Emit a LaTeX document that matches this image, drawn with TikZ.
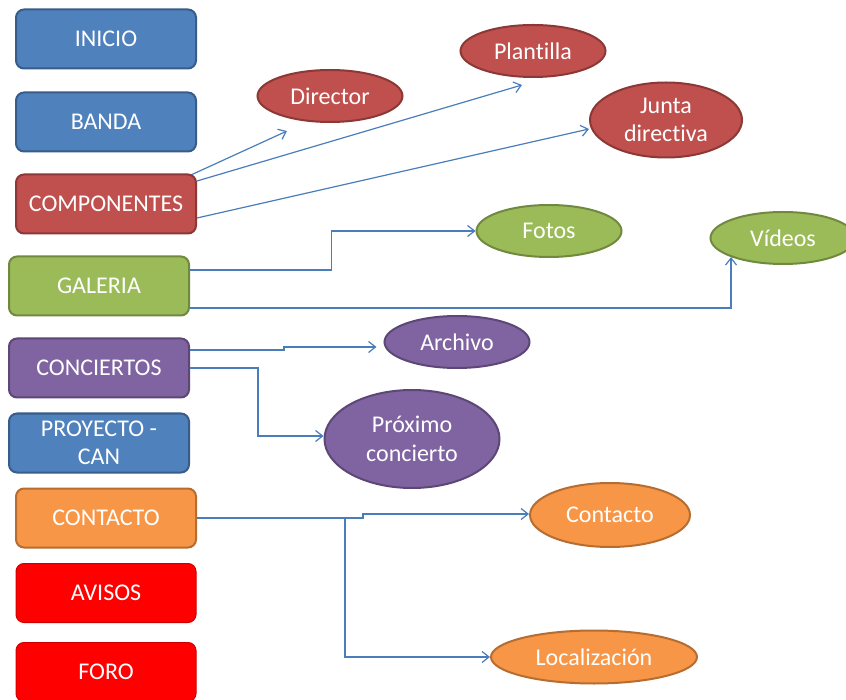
\documentclass[tikz,border=0pt]{standalone}
\usepackage{fontspec}
\setmainfont{Carlito}[Ligatures=NoCommon]
\usetikzlibrary{shapes.geometric,arrows.meta}
\definecolor{bfill}{HTML}{4F81BD}\definecolor{bdraw}{HTML}{385D8A}
\definecolor{rfill}{HTML}{C0504D}\definecolor{rdraw}{HTML}{8C3836}
\definecolor{gfill}{HTML}{9BBB59}\definecolor{gdraw}{HTML}{71893F}
\definecolor{pfill}{HTML}{8064A2}\definecolor{pdraw}{HTML}{5C4776}
\definecolor{ofill}{HTML}{F79646}\definecolor{odraw}{HTML}{B66D31}
\definecolor{xfill}{HTML}{FF0000}\definecolor{xdraw}{HTML}{D00000}
\definecolor{lineblue}{HTML}{4A7EBB}
\newcommand\dfont{\fontsize{24}{28.5}\selectfont}
\tikzset{
  box/.style={rectangle, rounded corners=8pt, minimum width=180pt, minimum height=59pt,
    line width=2pt, text=white, font=\dfont, align=center, inner sep=0pt},
  ell/.style={ellipse, line width=2pt, text=white, font=\dfont, align=center, inner sep=0pt},
  blueb/.style={fill=bfill, draw=bdraw},
  redb/.style={fill=rfill, draw=rdraw},
  greenb/.style={fill=gfill, draw=gdraw},
  purpleb/.style={fill=pfill, draw=pdraw},
  orangeb/.style={fill=ofill, draw=odraw},
  brightb/.style={fill=xfill, draw=xdraw, line width=1pt},
  conn/.style={draw=lineblue, line width=1.2pt, -{Straight Barb[length=7pt,width=11pt]}}
}
\begin{document}
\begin{tikzpicture}[x=1pt,y=-1pt]
\clip (0,0) rectangle (846,700);
\fill[white] (0,0) rectangle (846,700);
% boxes
\node[box,blueb] (inicio) at (106,39) {INICIO};
\node[box,blueb] (banda) at (106,122) {BANDA};
\node[box,redb] (comp) at (106,204) {COMPONENTES};
\node[box,greenb] (galeria) at (99,286) {GALERIA};
\node[box,purpleb] (conciertos) at (99,368) {CONCIERTOS};
\node[box,blueb] (proyecto) at (99,443) {PROYECTO -\\CAN};
\node[box,orangeb] (contacto) at (106,518) {CONTACTO};
\node[box,brightb] (avisos) at (106,593) {AVISOS};
\node[box,brightb] (foro) at (106,672) {FORO};
% ellipses
\node[ell,redb,minimum width=145pt,minimum height=52pt] (director) at (330,96) {Director};
\node[ell,redb,minimum width=145pt,minimum height=52pt] (plantilla) at (533,51) {Plantilla};
\node[ell,redb,minimum width=152pt,minimum height=75pt] (junta) at (666,120) {Junta\\directiva};
\node[ell,greenb,minimum width=145pt,minimum height=52pt] (fotos) at (549,231) {Fotos};
\node[ell,greenb,minimum width=145pt,minimum height=52pt] (videos) at (783,238) {Vídeos};
\node[ell,purpleb,minimum width=145pt,minimum height=52pt] (archivo) at (457,342) {Archivo};
\node[ell,purpleb,minimum width=175pt,minimum height=98pt] (proximo) at (412,439) {Próximo\\concierto};
\node[ell,orangeb,minimum width=160pt,minimum height=64pt] (contactoE) at (610,515) {Contacto};
\node[ell,orangeb,minimum width=206pt,minimum height=53pt] (local) at (594,657) {Localización};
% connectors
\draw[conn] ([xshift=-5pt,yshift=-1pt]comp.north east) -- ([xshift=-43pt,yshift=-8pt]director.south);
\draw[conn] ([yshift=23pt]comp.east) -- ([xshift=-11pt,yshift=-7pt]plantilla.south);
\draw[conn] ([yshift=-14pt]comp.east) -- ([yshift=-9pt]junta.west);
\draw[conn] ([yshift=16pt]galeria.east) -| ([xshift=-144pt]fotos.west) -- (fotos.west);
\draw[conn] ([yshift=-22pt]galeria.east) -| (videos.south west);
\draw[conn] ([yshift=18pt]conciertos.east) -- ++(94,0) |- ([xshift=-7pt,yshift=-5pt]archivo.west);
\draw[conn] (conciertos.east) -- ++(68,0) |- ([yshift=3pt]proximo.west);
\draw[conn] (contacto.east) -- ++(166,0) |- ([yshift=1pt]contactoE.west);
\draw[conn] (contacto.east) -- ++(148,0) |- (local.west);
\end{tikzpicture}
\end{document}
